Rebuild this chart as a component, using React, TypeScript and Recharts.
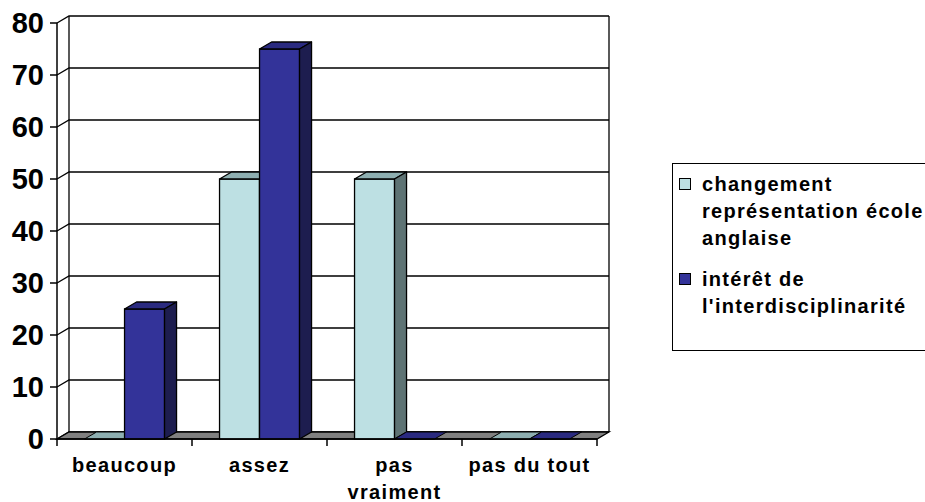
import React from 'react';
import { BarChart, Bar, XAxis, YAxis, CartesianGrid, ReferenceArea, Legend } from 'recharts';

const categories = ['beaucoup', 'assez', 'pas vraiment', 'pas du tout'];
const changementValues = [0, 50, 50, 0];
const interetValues = [25, 75, 0, 0];
const yTicks = [0, 10, 20, 30, 40, 50, 60, 70, 80];
const seriesNames = ['changement représentation école anglaise', "intérêt de l'interdisciplinarité"];

const data = categories.map((c, i) => ({ cat: c, a: changementValues[i], b: interetValues[i] }));

const FONT = '"Liberation Sans", Arial, sans-serif';
const DX = 12;
const DY = 7;

const LIGHT = { front: '#BDE0E3', top: '#8EAFB1', side: '#5E7374' };
const BLUE = { front: '#333399', top: '#2A2A80', side: '#1D1D4F' };

let measureCtx: CanvasRenderingContext2D | null = null;
function measure(s: string): number {
  if (typeof document === 'undefined') return s.length * 12;
  if (!measureCtx) {
    const c = document.createElement('canvas');
    measureCtx = c.getContext('2d');
  }
  if (!measureCtx) return s.length * 12;
  measureCtx.font = `bold 20px ${FONT}`;
  // account for letter spacing manually
  return measureCtx.measureText(s).width + s.length * 1.3;
}

function wrapWords(s: string, maxW: number): string[] {
  const words = String(s).split(' ');
  const lines: string[] = [];
  let cur = '';
  for (const w of words) {
    const cand = cur ? cur + ' ' + w : w;
    if (cur && measure(cand) > maxW) {
      lines.push(cur);
      cur = w;
    } else {
      cur = cand;
    }
  }
  if (cur) lines.push(cur);
  return lines;
}

function Bar3D(props: any) {
  const { x, y, width, height, colors } = props;
  if (x == null || y == null || width == null) return null;
  const h = Math.max(0, height || 0);
  const w = width;
  if (h < 0.5) {
    const yb = y + h;
    return (
      <path
        d={`M${x},${yb} L${x + w},${yb} L${x + w + DX},${yb - DY} L${x + DX},${yb - DY} Z`}
        fill={colors.top}
        stroke="#000"
        strokeWidth={1}
      />
    );
  }
  return (
    <g>
      <rect x={x} y={y} width={w} height={h} fill={colors.front} stroke="#000" strokeWidth={1.3} />
      <path
        d={`M${x},${y} L${x + DX},${y - DY} L${x + w + DX},${y - DY} L${x + w},${y} Z`}
        fill={colors.top}
        stroke="#000"
        strokeWidth={1.3}
        strokeLinejoin="round"
      />
      <path
        d={`M${x + w},${y} L${x + w + DX},${y - DY} L${x + w + DX},${y + h - DY} L${x + w},${y + h} Z`}
        fill={colors.side}
        stroke="#000"
        strokeWidth={1.3}
        strokeLinejoin="round"
      />
    </g>
  );
}

function Walls(props: any) {
  const { x, y, width, height } = props;
  const yb = y + height;
  return (
    <g>
      <line x1={x + DX} y1={y - DY} x2={x + DX} y2={yb - DY} stroke="#000" strokeWidth={1.3} />
      <line x1={x + width + DX} y1={y - DY} x2={x + width + DX} y2={yb - DY} stroke="#000" strokeWidth={1.3} />
      <path
        d={`M${x},${yb} L${x + width},${yb} L${x + width + DX},${yb - DY} L${x + DX},${yb - DY} Z`}
        fill="#808080"
        stroke="#000"
        strokeWidth={1.3}
      />
    </g>
  );
}

function gridLine(p: any) {
  const { x1, x2, y1 } = p;
  return (
    <path
      key={p.key ?? `g-${y1}`}
      d={`M${x1},${y1} L${x1 + DX},${y1 - DY} L${x2 + DX},${y1 - DY}`}
      fill="none"
      stroke="#000"
      strokeWidth={1.3}
    />
  );
}

function XTick(props: any) {
  const { x, y, payload, index, visibleTicksCount } = props;
  const off = payload && payload.offset ? payload.offset : 67.5;
  const isLast = index === visibleTicksCount - 1;
  const lines = wrapWords(payload.value, off * 2 - 2);
  return (
    <g>
      <line x1={x - off} y1={y} x2={x - off} y2={y + 7} stroke="#000" strokeWidth={1.5} />
      {isLast && <line x1={x + off} y1={y} x2={x + off} y2={y + 7} stroke="#000" strokeWidth={1.5} />}
      <text
        x={x}
        y={y + 33}
        textAnchor="middle"
        fill="#000"
        style={{ fontSize: 20, fontWeight: 'bold', letterSpacing: 1.3, fontFamily: FONT }}
      >
        {lines.map((l, i) => (
          <tspan key={i} x={x} dy={i === 0 ? 0 : 27}>
            {l}
          </tspan>
        ))}
      </text>
    </g>
  );
}

function LegendBox(props: any) {
  const payload = props.payload || [];
  return (
    <div
      style={{
        width: 280,
        height: 188,
        border: '1.5px solid #000',
        boxSizing: 'border-box',
        background: '#fff',
        padding: '7px 0 0 6px',
        fontFamily: FONT,
        fontWeight: 'bold',
        fontSize: 20,
        letterSpacing: 1.3,
        color: '#000',
        textAlign: 'left',
      }}
    >
      {payload.map((e: any, i: number) => (
        <div key={i} style={{ display: 'flex', alignItems: 'flex-start', marginBottom: 14 }}>
          <div
            style={{
              width: 10,
              height: 10,
              border: '1px solid #000',
              background: e.color,
              marginTop: 7,
              marginRight: 11,
              flex: 'none',
            }}
          />
          <div style={{ lineHeight: '27px', width: 235 }}>{e.value}</div>
        </div>
      ))}
    </div>
  );
}

export default function App() {
  return (
    <div style={{ position: 'absolute', left: 0, top: 0, width: 925, height: 502, overflow: 'hidden', background: '#fff' }}>
      <BarChart
        width={925}
        height={502}
        data={data}
        margin={{ top: 23, right: 328, bottom: 0, left: 0 }}
        barCategoryGap="20.4%"
        barGap={0}
      >
        <ReferenceArea y1={0} y2={80} shape={<Walls />} fill="none" stroke="none" ifOverflow="visible" />
        <CartesianGrid vertical={false} horizontal={gridLine as any} />
        <XAxis
          dataKey="cat"
          height={63}
          interval={0}
          tickLine={false}
          tickSize={0}
          tickMargin={0}
          axisLine={{ stroke: '#000', strokeWidth: 1.5 }}
          tick={<XTick />}
        />
        <YAxis
          width={57}
          domain={[0, 80]}
          ticks={yTicks}
          interval={0}
          tickSize={7}
          tickMargin={6}
          tickLine={{ stroke: '#000', strokeWidth: 1.5 }}
          axisLine={{ stroke: '#000', strokeWidth: 1.5 }}
          tick={{ fill: '#000', fontSize: 29, fontWeight: 'bold', fontFamily: FONT }}
        />
        <Legend
          layout="vertical"
          align="center"
          verticalAlign="middle"
          content={<LegendBox />}
          wrapperStyle={{ left: 672, top: 163, width: 280, height: 188 }}
        />
        <Bar
          dataKey="a"
          name={seriesNames[0]}
          fill={LIGHT.front}
          isAnimationActive={false}
          shape={(p: any) => <Bar3D {...p} colors={LIGHT} />}
        />
        <Bar
          dataKey="b"
          name={seriesNames[1]}
          fill={BLUE.front}
          isAnimationActive={false}
          shape={(p: any) => <Bar3D {...p} colors={BLUE} />}
        />
      </BarChart>
    </div>
  );
}
